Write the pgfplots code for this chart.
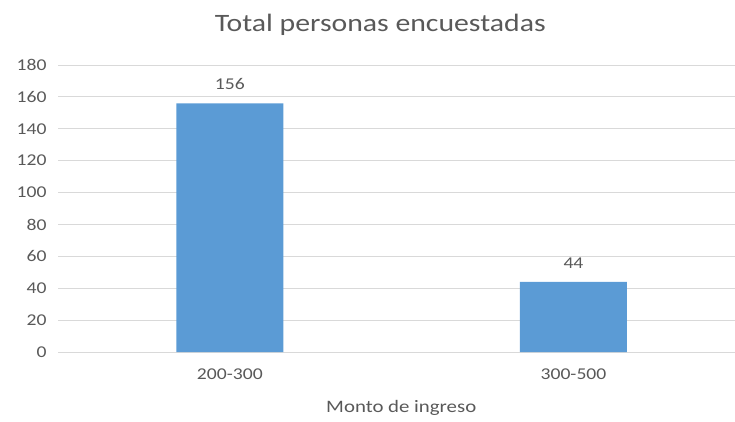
\documentclass[border=0pt]{standalone}
\usepackage{fontspec}
\setmainfont{Carlito}[FakeStretch=1.19]
\usepackage{pgfplots}
\pgfplotsset{compat=1.18}
\definecolor{barblue}{HTML}{5B9BD5}
\definecolor{txt}{HTML}{595959}
\definecolor{gridc}{HTML}{D9D9D9}
\begin{document}
\begin{tikzpicture}[x=1pt,y=1pt]
\useasboundingbox (0,0) rectangle (735,421);
\begin{axis}[
  at={(58pt,69pt)}, anchor=south west, scale only axis,
  width=677pt, height=287pt,
  xmin=-0.5, xmax=1.47, ymin=0, ymax=180,
  enlargelimits=false,
  ytick={0,20,...,180},
  xtick={0,1}, xticklabels={200-300,300-500},
  axis line style={draw=none},
  tick style={draw=none},
  ymajorgrids, major grid style={gridc, line width=1pt},
  /pgf/number format/assume math mode=true,
  yticklabel style={font=\fontsize{16.5}{18}\selectfont, text=txt, anchor=east, xshift=-8pt},
  xticklabel style={font=\fontsize{16.5}{18}\selectfont, text=txt, anchor=center, yshift=-22pt},
  title={Total personas encuestadas},
  title style={font=\fontsize{25}{28}\selectfont, text=txt, at={(0.476,1)}, anchor=center, yshift=34pt},
  xlabel={Monto de ingreso},
  xlabel style={font=\fontsize{17.5}{20}\selectfont, text=txt, at={(0.507,0)}, anchor=center, yshift=-56pt},
  clip=false,
]
\addplot[ybar, bar width=107pt, fill=barblue, draw=none,
  nodes near coords,
  every node near coord/.append style={font=\fontsize{16.5}{18}\selectfont, text=txt, anchor=center, yshift=19pt}]
  coordinates {(0,156) (1,44)};
\end{axis}
\end{tikzpicture}
\end{document}
